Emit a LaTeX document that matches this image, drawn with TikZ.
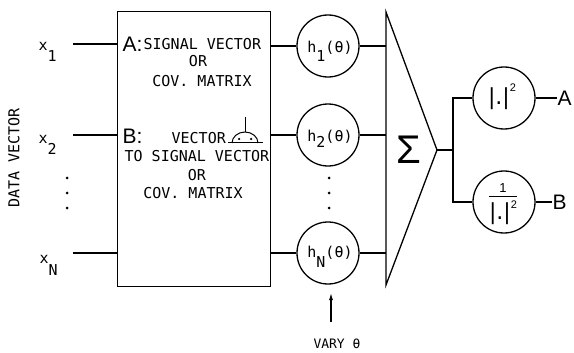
\documentclass[tikz,border=0pt]{standalone}
\usepackage{amsmath}
\usepackage{fontspec}
\setmainfont{Liberation Sans}
\newfontfamily\monof{DejaVu Sans Mono}
\newfontfamily\dejav{DejaVu Sans}
\usetikzlibrary{arrows.meta}
\newcommand\mf{\monof\fontsize{15}{15}\selectfont}
\newcommand\lowd[2]{\raisebox{-#1pt}{#2}}
\newcommand\absf{{\dejav\fontsize{22}{22}\selectfont|.|}}
\begin{document}
\begin{tikzpicture}[x=1pt,y=1pt,line width=1.3pt,
  circ/.style={circle,draw,minimum size=62pt,inner sep=0pt},
  mtxt/.style={inner sep=0pt,font=\mf},
  bigl/.style={inner sep=0pt,font=\fontsize{21}{21}\selectfont},
  wire/.style={line width=1.3pt},
  dotf/.style={circle,fill,inner sep=0pt,minimum size=3pt}]
\useasboundingbox (0,0) rectangle (574,-353);
% main box
\node[draw,rectangle,minimum width=153pt,minimum height=275pt,inner sep=0pt,anchor=north west] (box) at (117,-11) {};
% inputs
\coordinate (i1) at (73,-44);
\coordinate (i2) at (73,-135);
\coordinate (iN) at (73,-253);
\coordinate (b1) at (117,-44);
\coordinate (b2) at (117,-135);
\coordinate (bN) at (117,-253);
\draw[wire] (i1) -- (b1);
\draw[wire] (i2) -- (b2);
\draw[wire] (iN) -- (bN);
\node[mtxt,anchor=base west] (x1) at (38,-51) {x\lowd{11}{1}};
\node[mtxt,anchor=base west] (x2) at (38,-143) {x\lowd{11}{2}};
\node[mtxt,anchor=base west] (xN) at (39,-263) {x\lowd{12}{N}};
\node[dotf] (xd1) at (67,-178) {};
\node[dotf] (xd2) at (67,-193) {};
\node[dotf] (xd3) at (67,-208) {};
\node[mtxt,rotate=90] (dv) at (14,-158) {DATA VECTOR};
% box text
\node[bigl,anchor=base west] (A0) at (122,-52) {A:};
\node[mtxt,anchor=base west] (t1) at (143,-50) {SIGNAL VECTOR};
\node[mtxt,anchor=base] (t2) at (198,-67) {OR};
\node[mtxt,anchor=base] (t3) at (202,-87) {COV. MATRIX};
\node[bigl,anchor=base west] (B0) at (122,-143) {B:};
\node[mtxt,anchor=base west] (t4) at (171,-144) {VECTOR};
\node[mtxt,anchor=base west] (t5) at (124,-162) {TO SIGNAL VECTOR};
\node[mtxt,anchor=base] (t6) at (197,-180) {OR};
\node[mtxt,anchor=base] (t7) at (193,-198) {COV. MATRIX};
% perp symbol
\coordinate (sy) at (245,-143);
\draw[line width=1pt] (228,-143) -- (263,-143);
\draw[line width=1pt] (232,-143) arc[start angle=180,end angle=0,x radius=13,y radius=11];
\draw[line width=1pt] (245,-132) -- (245,-117);
\node[dotf,minimum size=2.5pt] (sd1) at (239,-139) {};
\node[dotf,minimum size=2.5pt] (sd2) at (251,-139) {};
% h circles
\node[circ] (h1) at (328,-46) {};
\node[circ] (h2) at (328,-135) {};
\node[circ] (hN) at (328,-253) {};
\node[mtxt,anchor=base] (hl1) at (330,-53) {h\lowd{9}{1}(θ)};
\node[mtxt,anchor=base] (hl2) at (330,-142) {h\lowd{6}{2}(θ)};
\node[mtxt,anchor=base] (hlN) at (330,-257) {h\lowd{10}{N}(θ)};
\draw[wire] (box.east |- h1.west) -- (h1.west);
\draw[wire] (box.east |- h2.west) -- (h2.west);
\draw[wire] (box.east |- hN.west) -- (hN.west);
\node[dotf] (hd1) at (329,-178) {};
\node[dotf] (hd2) at (329,-193) {};
\node[dotf] (hd3) at (329,-208) {};
% summer
\coordinate (ttop) at (386,-12);
\coordinate (ttip) at (437,-150);
\coordinate (tbot) at (386,-285);
\draw[wire,line join=miter] (ttop) -- (ttip) -- (tbot) -- cycle;
\node[inner sep=0pt,font=\fontsize{40}{40}\selectfont] (sig) at (409,-150) {Σ};
\draw[wire] (h1.east) -- (h1.east -| ttop);
\draw[wire] (h2.east) -- (h2.east -| ttop);
\draw[wire] (hN.east) -- (hN.east -| ttop);
% outputs
\node[circ] (oA) at (504,-98) {};
\node[circ] (oB) at (504,-202) {};
\coordinate (j) at (453,-150);
\draw[wire] (ttip) -- (j);
\draw[wire] (j) |- (oA.west);
\draw[wire] (j) |- (oB.west);
\node[inner sep=0pt,anchor=base] (la) at (502,-105) {\absf\raisebox{13pt}{\fontsize{11}{11}\selectfont 2}};
\node[inner sep=0pt] (lb) at (503,-204) {$\genfrac{}{}{1.2pt}{0}{\hbox{\fontsize{13}{13}\selectfont 1}}{\hbox{\absf\raisebox{11pt}{\fontsize{11}{11}\selectfont 2}}}$};
\node[bigl,anchor=west] (LA) at (557,-98) {A};
\node[bigl,anchor=west] (LB) at (552,-202) {B};
\draw[wire] (oA.east) -- (LA.west);
\draw[wire] (oB.east) -- (LB.west);
% vary theta
\coordinate (aS) at (331,-322);
\coordinate (aE) at (331,-293);
\draw[line width=1.1pt,-{Latex[length=7pt,width=4pt]}] (aS) -- (aE);
\node[inner sep=0pt,font=\monof\fontsize{13}{13}\selectfont] (vt) at (337,-344) {VARY θ};
\end{tikzpicture}
\end{document}
